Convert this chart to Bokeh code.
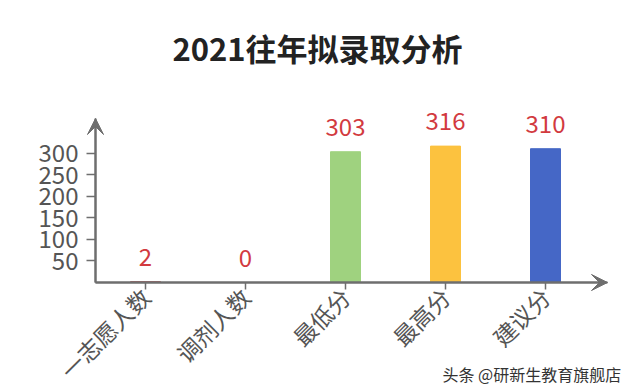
from bokeh.plotting import figure
from bokeh.models import (ColumnDataSource, Range1d, FixedTicker, LabelSet, Label,
                          Arrow, VeeHead)
from bokeh.core.properties import value
from bokeh.embed import file_html
from bokeh.resources import INLINE
import math

# ---- data ----
categories = ["一志愿人数", "调剂人数", "最低分", "最高分", "建议分"]
values = [2, 0, 303, 316, 310]
colors = ["#c0504d", "#c0504d", "#9fd27f", "#fcc23f", "#4567c6"]
y_ticks = [50, 100, 150, 200, 250, 300]
title_text = "2021往年拟录取分析"
watermark = "头条 @研新生教育旗舰店"

FONT = "Noto Sans CJK SC"
W, H = 632, 386
X0_PX, PX_PER_CAT = 145, 100      # pixel of first category, spacing
Y0_PX, PX_PER_UNIT = 282, 164 / 380
Y_AXIS_TOP = 380
X_AXIS_END = 4.62

xs = list(range(len(categories)))
src = ColumnDataSource(dict(x=xs, top=values, color=colors,
                            label=[str(v) for v in values]))

p = figure(width=W, height=H, output_backend="svg", toolbar_location=None,
           x_range=Range1d(-X0_PX / PX_PER_CAT, (W - X0_PX) / PX_PER_CAT),
           y_range=Range1d(-(H - Y0_PX) / PX_PER_UNIT, Y0_PX / PX_PER_UNIT),
           min_border=0)
p.outline_line_color = None
p.grid.grid_line_color = None
p.background_fill_color = "white"
p.border_fill_color = "white"

p.vbar(x="x", top="top", width=0.3, color="color", source=src)

AX = "#6e6e6e"
# y axis
ax = p.yaxis[0]
ax.fixed_location = -0.5
ax.bounds = (0, Y_AXIS_TOP)
ax.ticker = FixedTicker(ticks=y_ticks)
ax.axis_line_color = AX
ax.axis_line_width = 2
ax.major_tick_line_color = AX
ax.major_tick_line_width = 1.5
ax.major_tick_out = 9
ax.major_tick_in = 0
ax.minor_tick_line_color = None
ax.major_label_text_font = FONT
ax.major_label_text_font_size = "24px"
ax.major_label_text_color = "#555555"
ax.major_label_standoff = 8

# x axis
bx = p.xaxis[0]
bx.fixed_location = 0
bx.bounds = (-0.5, X_AXIS_END)
bx.ticker = FixedTicker(ticks=xs)
bx.major_label_overrides = {i: c for i, c in enumerate(categories)}
bx.axis_line_color = AX
bx.axis_line_width = 2
bx.major_tick_line_color = AX
bx.major_tick_line_width = 1.5
bx.major_tick_out = 7
bx.major_tick_in = 0
bx.minor_tick_line_color = None
bx.major_label_orientation = math.pi / 4
bx.major_label_text_font = FONT
bx.major_label_text_font_size = "23px"
bx.major_label_text_color = "#555555"
bx.major_label_standoff = 3

# arrow heads on axes
for xe, ye in [(-0.5, Y_AXIS_TOP), (X_AXIS_END, 0)]:
    p.add_layout(Arrow(end=VeeHead(size=16, fill_color=AX, line_color=AX),
                       x_start=-0.5, y_start=0, x_end=xe, y_end=ye,
                       line_color=AX, line_width=2))

# value labels
p.add_layout(LabelSet(x="x", y="top", text="label", source=src, y_offset=16,
                      text_align="center", text_baseline="alphabetic",
                      text_font=value(FONT), text_font_size=value("24px"),
                      text_color="#d23a3f"))

# title
p.add_layout(Label(x=(317 - X0_PX) / PX_PER_CAT, y=(Y0_PX - 47) / PX_PER_UNIT,
                   text=title_text, text_align="center", text_baseline="alphabetic",
                   text_font=FONT, text_font_size="31px", text_font_style="bold",
                   text_color="#222222"))
# watermark
p.add_layout(Label(x=(442 - X0_PX) / PX_PER_CAT, y=-(373 - Y0_PX) / PX_PER_UNIT,
                   text=watermark, text_align="left", text_baseline="alphabetic",
                   text_font=FONT, text_font_size="16px", text_color="#333333"))

open("out.html", "w").write(file_html(p, INLINE))
